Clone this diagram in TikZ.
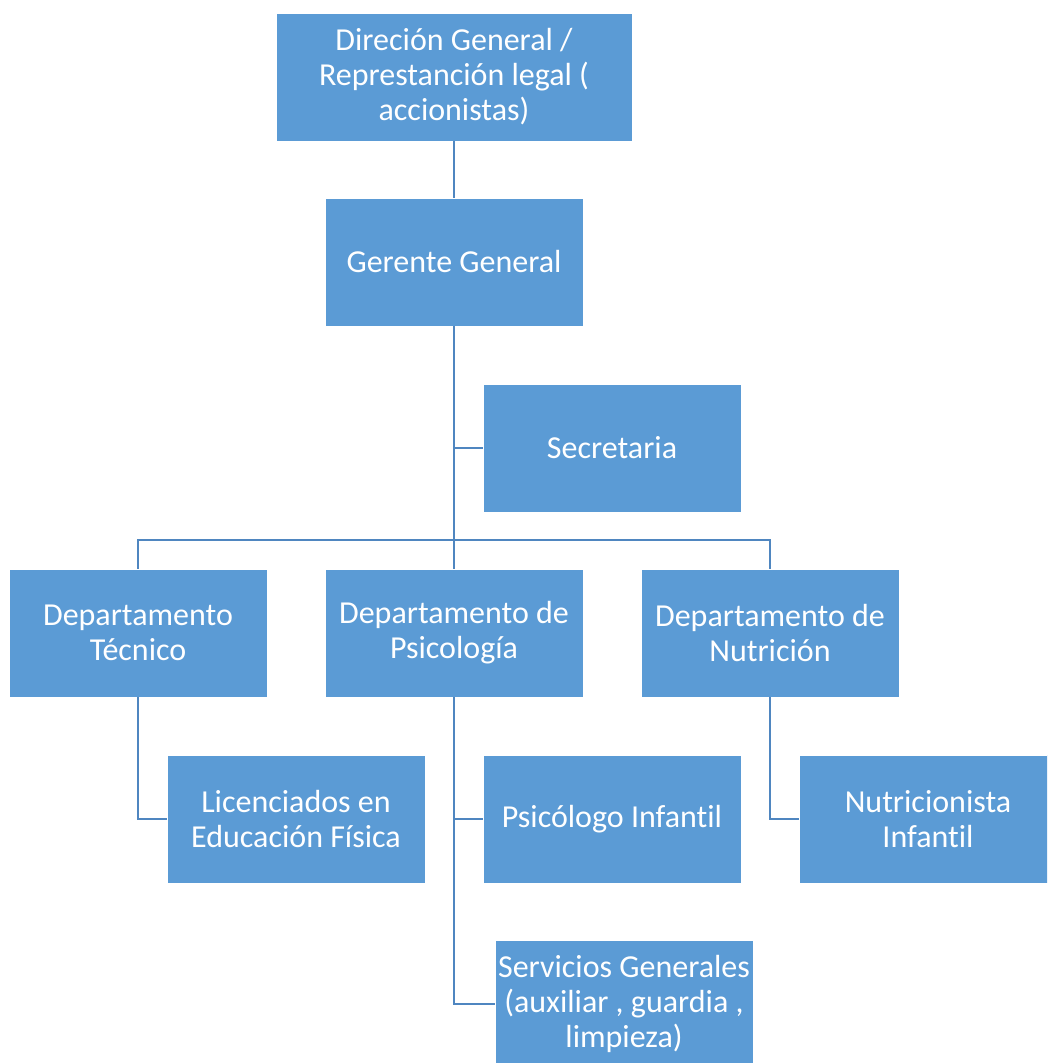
\documentclass[tikz,border=0pt]{standalone}
\usepackage{fontspec}
\setmainfont{Carlito}[Ligatures=NoCommon]
\definecolor{boxfill}{HTML}{5B9BD5}
\definecolor{linecol}{HTML}{4F86C0}
\begin{document}
\begin{tikzpicture}[x=1pt,y=-1pt,
  orgbox/.style={fill=boxfill,draw=white,line width=0.8pt,minimum width=258pt,minimum height=128pt,
    text=white,align=center,font=\fontsize{32}{35}\selectfont,inner sep=0pt},
  wide/.style={minimum width=356pt},
  conn/.style={draw=linecol,line width=2.8pt}]
\useasboundingbox (0,0) rectangle (1047,1063);
\clip (0,0) rectangle (1047,1063);
\node[orgbox,wide] (dir) at (454,77) {Direción General /\\Represtanción legal (\\accionistas)};
\node[orgbox] (ger) at (454,262) {Gerente General};
\node[orgbox] (sec) at (612,448) {Secretaria};
\node[orgbox] (tec) at (138,633) {Departamento\\Técnico};
\node[orgbox] (psi) at (454,633) {Departamento de\\Psicología};
\node[orgbox] (nut) at (770,633) {Departamento de\\Nutrición};
\node[orgbox] (lic) at (296,819) {Licenciados en\\Educación Física};
\node[orgbox] (pin) at (612,819) {Psicólogo Infantil};
\node[orgbox] (ninf) at (928,819) {Nutricionista\\Infantil};
\node[orgbox] (serv) at (624,1004) {Servicios Generales\\(auxiliar , guardia ,\\limpieza)};
\coordinate (bus) at (454,540);
\draw[conn] (dir.south) -- (ger.north);
\draw[conn] (ger.south) -- (bus);
\draw[conn] (sec.west) -- (sec.west -| ger.south);
\draw[conn] (tec.north) |- (bus) -| (nut.north);
\draw[conn] (bus) -- (psi.north);
\draw[conn] (tec.south) |- (lic.west);
\draw[conn] (nut.south) |- (ninf.west);
\draw[conn] (psi.south) |- (serv.west);
\draw[conn] (pin.west) -- (pin.west -| psi.south);
\end{tikzpicture}
\end{document}
